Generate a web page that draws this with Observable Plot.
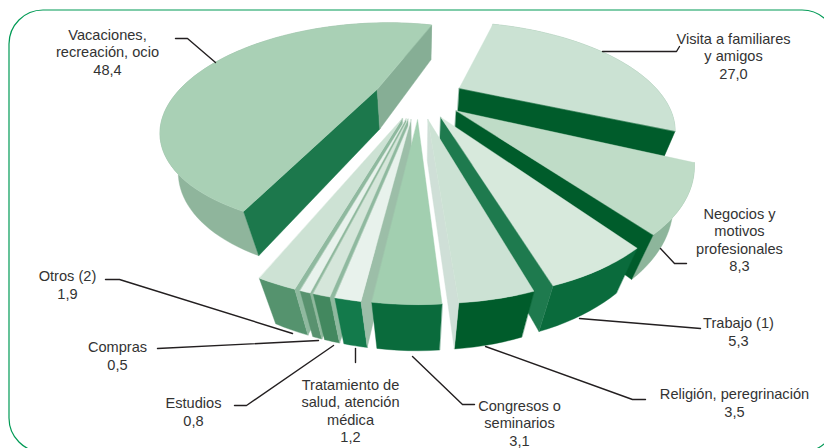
<!DOCTYPE html>
<html>
<head>
<meta charset="utf-8">
<script src="https://cdn.jsdelivr.net/npm/d3@7"></script>
<script src="https://cdn.jsdelivr.net/npm/@observablehq/plot@0.6"></script>
<style>html,body{margin:0;padding:0;background:#fff}</style>
</head>
<body>
<div id="chart"></div>
<script>
// Data
const categories = ["Vacaciones,\nrecreación, ocio","Visita a familiares\ny amigos","Negocios y\nmotivos\nprofesionales","Trabajo (1)","Religión, peregrinación","Congresos o\nseminarios","Tratamiento de\nsalud, atención\nmédica","Estudios","Compras","Otros (2)"];
const shares = [48.4,27.0,8.3,5.3,3.5,3.1,1.2,0.8,0.5,1.9];

// Colours per slice
const topColors   = ["#a9d0b5","#cbe2d3","#bfdcc7","#d7e9dc","#cce2d4","#a2cfb0","#e8f2ec","#d5e6da","#e8f2ec","#cde2d4"];
const wallColors  = ["#8fb59c","#8fb59c","#8db59b","#0a6b3c","#005c2b","#0a6b3c","#137a4b","#43885f","#59926f","#55936e"];
const startFaces  = ["#1c784c",null,null,null,null,null,"#9cbea8","#8fb99f","#8fb89d","#8fb99f"];
const endFaces    = ["#86ae95","#005c2b","#005c2b","#1e7a4e","#cfdfd7",null,null,null,null,null];
const drawOrder   = [0,1,2,3,9,8,7,6,4,5];

// Annotation layout
const labelX = [107,733,739,738,734,519,350,193,117,67];
const labelY = [51,55,239,331,402,422,410,411,355,284];
const leaders = [
  [[175,38],[187,38],[215,62]],
  [[602,51],[676,51],[679,46]],
  [[660,248],[674,263],[686,263]],
  [[579,318],[700,328]],
  [[485,346],[632,399],[645,399]],
  [[412,356],[462,404],[474,404]],
  [[355,348],[355,362]],
  [[333,345],[246,405],[234,405]],
  [[318,340],[157,348]],
  [[292,333],[119,279],[105,279]]
];

// Projection of the pie's plane
const cx = 418.5, cy = 96, A = 203, B = 95, K = 0.36, explode = 0.225, firstAngle = 203;
const vpX = 418, vpY = 720;
const rad = d => d * Math.PI / 180;
const project = (u, v) => { const s = 1 / (1 - K * v); return {x: cx + A * u * s, y: cy + B * v * s, v}; };
const drop = p => {
  const dy = 40 + 5 * p.v, t = dy / (vpY - p.y);
  return {x: p.x + (vpX - p.x) * t, y: p.y + dy};
};

const total = d3.sum(shares);
let cursor = firstAngle;
const slices = shares.map((value, i) => {
  const a0 = cursor, a1 = cursor + value / total * 360; cursor = a1;
  const mid = rad((a0 + a1) / 2);
  const ou = explode * Math.sin(mid), ov = -explode * Math.cos(mid);
  const at = a => project(ou + Math.sin(rad(a)), ov - Math.cos(rad(a)));
  const n = Math.max(4, Math.ceil((a1 - a0) / 2));
  const arc = d3.range(n + 1).map(k => at(a0 + (a1 - a0) * k / n));
  return {i, apex: project(ou, ov), arc};
});

const polygon = (points, color) => Plot.line(points, {
  x: "x", y: "y", fill: color, stroke: color, strokeWidth: 0.4, curve: "linear-closed"
});

const marks = [
  Plot.rect([{x1: 9, x2: 836, y1: 10, y2: 452}], {x1: "x1", x2: "x2", y1: "y1", y2: "y2", rx: 34, fill: "none", stroke: "#009a55", strokeWidth: 1.2})
];
for (const i of drawOrder) {
  const s = slices[i], first = s.arc[0], last = s.arc[s.arc.length - 1];
  marks.push(polygon([...s.arc, ...s.arc.map(drop).reverse()], wallColors[i]));
  if (startFaces[i]) marks.push(polygon([s.apex, first, drop(first), drop(s.apex)], startFaces[i]));
  if (endFaces[i]) marks.push(polygon([s.apex, last, drop(last), drop(s.apex)], endFaces[i]));
  marks.push(polygon([s.apex, ...s.arc], topColors[i]));
}
leaders.forEach(pts => marks.push(Plot.line(pts, {x: d => d[0], y: d => d[1], stroke: "#231f20", strokeWidth: 1.4, curve: "linear"})));
const labels = categories.map((c, i) => ({text: c + "\n" + shares[i].toFixed(1).replace(".", ","), x: labelX[i], y: labelY[i]}));
marks.push(Plot.text(labels, {x: "x", y: "y", text: "text", fontSize: 14.6, lineHeight: 1.2, fill: "#333", textAnchor: "middle"}));

const chart = Plot.plot({
  width: 824, height: 448,
  marginTop: 0, marginRight: 0, marginBottom: 0, marginLeft: 0,
  x: {domain: [0, 824], range: [0, 824], axis: null},
  y: {domain: [0, 448], range: [0, 448], axis: null},
  style: {fontFamily: "'Liberation Sans', Arial, sans-serif", background: "#fff"},
  marks
});
document.getElementById("chart").appendChild(chart);
</script>
</body>
</html>
